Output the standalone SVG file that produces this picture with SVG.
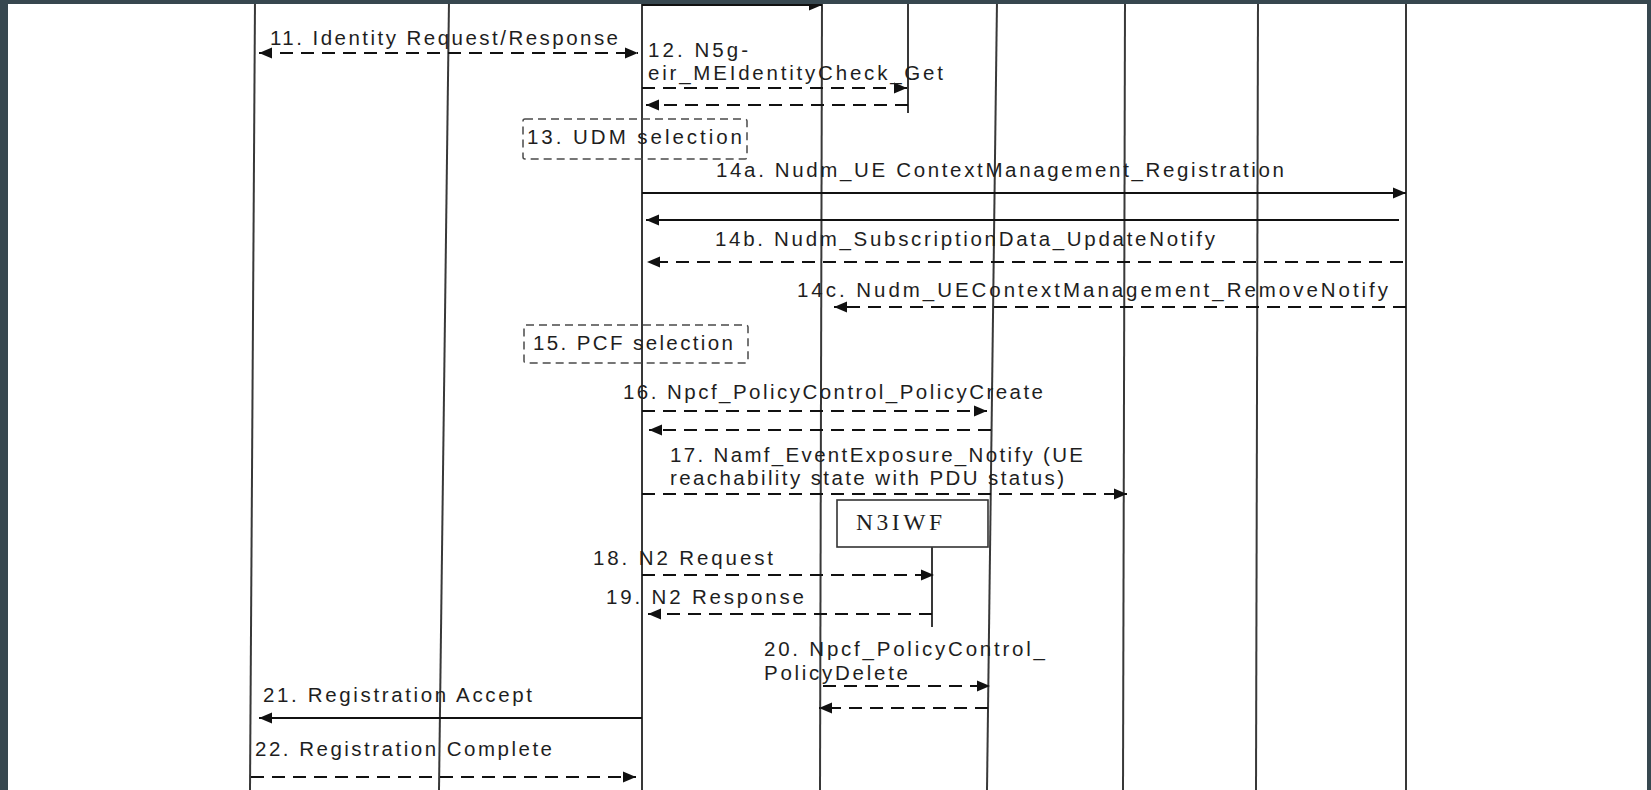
<svg xmlns="http://www.w3.org/2000/svg" width="1651" height="790" viewBox="0 0 1651 790">
<defs>
<style>
.ll{stroke:#383838;stroke-width:2;fill:none}
.msg{stroke:#111;stroke-width:1.8;fill:none}
.dash{stroke-dasharray:13 8}
.t{font-family:"Liberation Sans",Arial,sans-serif;font-size:20.5px;fill:#1e1e1e}
.sbox{fill:none;stroke:#4a4a4a;stroke-width:1.5;stroke-dasharray:8 5}
</style>
<marker id="ah" markerUnits="userSpaceOnUse" markerWidth="14" markerHeight="12" refX="13" refY="6" orient="auto-start-reverse" viewBox="0 0 14 12">
<path d="M0,0.5 L13,6 L0,11.5 z" fill="#111"/>
</marker>
<clipPath id="pg"><rect x="8" y="4" width="1639" height="786"/></clipPath>
</defs>
<rect x="0" y="0" width="1651" height="790" fill="#37474f"/>
<rect x="8" y="4" width="1639" height="786" fill="#ffffff"/>
<g clip-path="url(#pg)">
<g id="lifeline-1"><line class="ll" x1="255" y1="0" x2="250" y2="790"/></g>
<g id="lifeline-2"><line class="ll" x1="449" y1="0" x2="439" y2="790"/></g>
<g id="lifeline-amf"><line class="ll" x1="642" y1="0" x2="642" y2="790"/></g>
<g id="lifeline-4"><line class="ll" x1="822" y1="0" x2="820" y2="790"/></g>
<g id="lifeline-5"><line class="ll" x1="908" y1="0" x2="908" y2="113"/></g>
<g id="lifeline-6"><line class="ll" x1="997" y1="0" x2="987" y2="790"/></g>
<g id="lifeline-7"><line class="ll" x1="1125" y1="0" x2="1123" y2="790"/></g>
<g id="lifeline-8"><line class="ll" x1="1258" y1="0" x2="1256" y2="790"/></g>
<g id="lifeline-udm"><line class="ll" x1="1406" y1="0" x2="1406" y2="790"/></g>

<g id="step13-udm-selection">
<rect class="sbox" x="523" y="119" width="224" height="40" rx="2"/>
<text class="t" x="527" y="144" textLength="215" lengthAdjust="spacing">13. UDM selection</text>
</g>
<g id="step15-pcf-selection">
<rect class="sbox" x="524" y="325" width="224" height="38" rx="2"/>
<text class="t" x="533" y="350" textLength="200" lengthAdjust="spacing">15. PCF selection</text>
</g>
<g id="n3iwf">
<rect x="837" y="500" width="151" height="47" fill="#ffffff" stroke="#333" stroke-width="1.6"/>
<text x="856" y="530" font-family="'Liberation Serif','Times New Roman',serif" font-size="23.5" fill="#1e1e1e" textLength="86" lengthAdjust="spacing">N3IWF</text>
<line class="ll" x1="932" y1="547" x2="932" y2="627"/>
</g>

<g id="connectors">
<line class="msg" x1="642" y1="5" x2="822" y2="5" marker-end="url(#ah)"/>
<line class="msg dash" x1="259" y1="53" x2="638" y2="53" marker-start="url(#ah)" marker-end="url(#ah)"/>
<line class="msg dash" x1="642" y1="88" x2="907" y2="88" marker-end="url(#ah)"/>
<line class="msg dash" x1="908" y1="105" x2="646" y2="105" marker-end="url(#ah)"/>
<line class="msg" x1="642" y1="193" x2="1406" y2="193" marker-end="url(#ah)"/>
<line class="msg" x1="1399" y1="220" x2="646" y2="220" marker-end="url(#ah)"/>
<line class="msg dash" x1="1403" y1="262" x2="647" y2="262" marker-end="url(#ah)"/>
<line class="msg dash" x1="1406" y1="307" x2="834" y2="307" marker-end="url(#ah)"/>
<line class="msg dash" x1="642" y1="411" x2="987" y2="411" marker-end="url(#ah)"/>
<line class="msg dash" x1="991" y1="430" x2="649" y2="430" marker-end="url(#ah)"/>
<line class="msg dash" x1="642" y1="494" x2="1127" y2="494" marker-end="url(#ah)"/>
<line class="msg dash" x1="642" y1="575" x2="934" y2="575" marker-end="url(#ah)"/>
<line class="msg dash" x1="932" y1="614" x2="648" y2="614" marker-end="url(#ah)"/>
<line class="msg dash" x1="823" y1="686" x2="990" y2="686" marker-end="url(#ah)"/>
<line class="msg dash" x1="988" y1="708" x2="819" y2="708" marker-end="url(#ah)"/>
<line class="msg" x1="642" y1="718" x2="259" y2="718" marker-end="url(#ah)"/>
<line class="msg dash" x1="251" y1="777" x2="636" y2="777" marker-end="url(#ah)"/>
</g>

<g id="labels">
<text class="t" x="270" y="45" textLength="348" lengthAdjust="spacing">11. Identity Request/Response</text>
<text class="t" x="648" y="57" textLength="100" lengthAdjust="spacing">12. N5g-</text>
<text class="t" x="648" y="80" textLength="295" lengthAdjust="spacing">eir_MEIdentityCheck_Get</text>
<text class="t" x="716" y="177" textLength="568" lengthAdjust="spacing">14a. Nudm_UE ContextManagement_Registration</text>
<text class="t" x="715" y="246" textLength="500" lengthAdjust="spacing">14b. Nudm_SubscriptionData_UpdateNotify</text>
<text class="t" x="797" y="297" textLength="591" lengthAdjust="spacing">14c. Nudm_UEContextManagement_RemoveNotify</text>
<text class="t" x="623" y="399" textLength="420" lengthAdjust="spacing">16. Npcf_PolicyControl_PolicyCreate</text>
<text class="t" x="670" y="462" textLength="413" lengthAdjust="spacing">17. Namf_EventExposure_Notify (UE</text>
<text class="t" x="670" y="485" textLength="394" lengthAdjust="spacing">reachability state with PDU status)</text>
<text class="t" x="593" y="565" textLength="180" lengthAdjust="spacing">18. N2 Request</text>
<text class="t" x="606" y="604" textLength="198" lengthAdjust="spacing">19. N2 Response</text>
<text class="t" x="764" y="656" textLength="281" lengthAdjust="spacing">20. Npcf_PolicyControl_</text>
<text class="t" x="764" y="680" textLength="144" lengthAdjust="spacing">PolicyDelete</text>
<text class="t" x="263" y="702" textLength="269" lengthAdjust="spacing">21. Registration Accept</text>
<text class="t" x="255" y="756" textLength="297" lengthAdjust="spacing">22. Registration Complete</text>
</g>
</g>
</svg>
